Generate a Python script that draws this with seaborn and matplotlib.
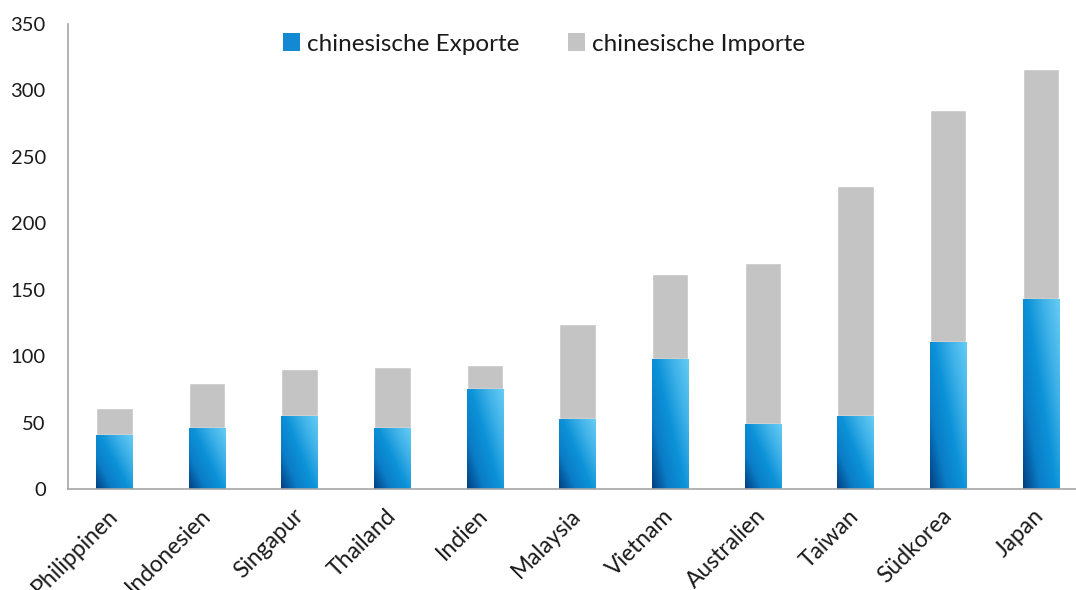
import numpy as np
import pandas as pd
import matplotlib
matplotlib.use("Agg")
import matplotlib.pyplot as plt
from matplotlib.colors import LinearSegmentedColormap
from matplotlib.patches import Patch
import seaborn as sns

# ---- data ----
countries = ["Philippinen", "Indonesien", "Singapur", "Thailand", "Indien", "Malaysia",
             "Vietnam", "Australien", "Taiwan", "Südkorea", "Japan"]
exports = [41, 46, 55, 46, 75, 52.5, 98, 49, 55, 111, 143]
imports = [20, 34, 35, 46, 18, 72, 64, 121, 173, 174, 173]
yticks = [0, 50, 100, 150, 200, 250, 300, 350]
legend_labels = ["chinesische Exporte", "chinesische Importe"]

sns.set_theme(style="white")
plt.rcParams["font.family"] = ["Lato", "DejaVu Sans"]

df = pd.DataFrame({"land": countries,
                   "exp": exports,
                   "tot": np.array(exports) + np.array(imports)})

fig = plt.figure(figsize=(10.76, 5.9), dpi=100)
ax = fig.add_axes([68 / 1076, 1 - 489 / 590, 1 - 68 / 1076, (489 - 24) / 590])

gray = "#c4c4c4"
blue = "#1388d3"
bw = 0.394
sns.barplot(data=df, x="land", y="tot", color=gray, width=bw, saturation=1, ax=ax)
sns.barplot(data=df, x="land", y="exp", color=blue, width=bw, saturation=1, ax=ax)

# gradient fill on blue bars
cmap = LinearSegmentedColormap.from_list(
    "g", ["#023f80", "#0a7cc6", "#0c92d8", "#3fb2e8", "#66ccf4"])
n = len(countries)
blue_patches = ax.patches[n:]
for p in blue_patches:
    x0, y0 = p.get_x(), p.get_y()
    w, h = p.get_width(), p.get_height()
    u = np.linspace(0, 1, 60)[None, :]
    v = np.linspace(0, 1, 120)[:, None]
    t = np.clip(0.55 * u + 0.45 * v, 0, 1)
    im = ax.imshow(t, extent=(x0, x0 + w, y0, y0 + h), origin="lower",
                   cmap=cmap, vmin=0, vmax=1, aspect="auto", zorder=p.get_zorder() + 0.1,
                   interpolation="bilinear")
    im.set_clip_path(p)

ax.set_xlim(-0.5, 10.38)
ax.set_ylim(0, 350)
ax.set_yticks(yticks)
ax.set_yticklabels([str(v) for v in yticks])
ax.set_xlabel("")
ax.set_ylabel("")
for s in ["top", "right"]:
    ax.spines[s].set_visible(False)
for s in ["left", "bottom"]:
    ax.spines[s].set_color("#a6a6a6")
    ax.spines[s].set_linewidth(1.2)
ax.tick_params(axis="both", length=0, colors="#1a1a1a")
ax.tick_params(axis="y", pad=16, labelsize=14.5)
ax.tick_params(axis="x", pad=17, labelsize=16.5)
for lab in ax.get_xticklabels():
    lab.set_rotation(45)
    lab.set_ha("right")
    lab.set_va("center")
    lab.set_rotation_mode("anchor")

handles = [Patch(facecolor=blue, edgecolor="none"), Patch(facecolor=gray, edgecolor="none")]
fig.legend(handles, legend_labels, loc="center", bbox_to_anchor=(544 / 1076, 1 - 44 / 590),
           ncol=2, frameon=False, fontsize=17.5, handlelength=0.7, handleheight=0.7,
           handletextpad=0.3, columnspacing=2.0, labelcolor="#1a1a1a")

fig.savefig("out.png", dpi=100)
